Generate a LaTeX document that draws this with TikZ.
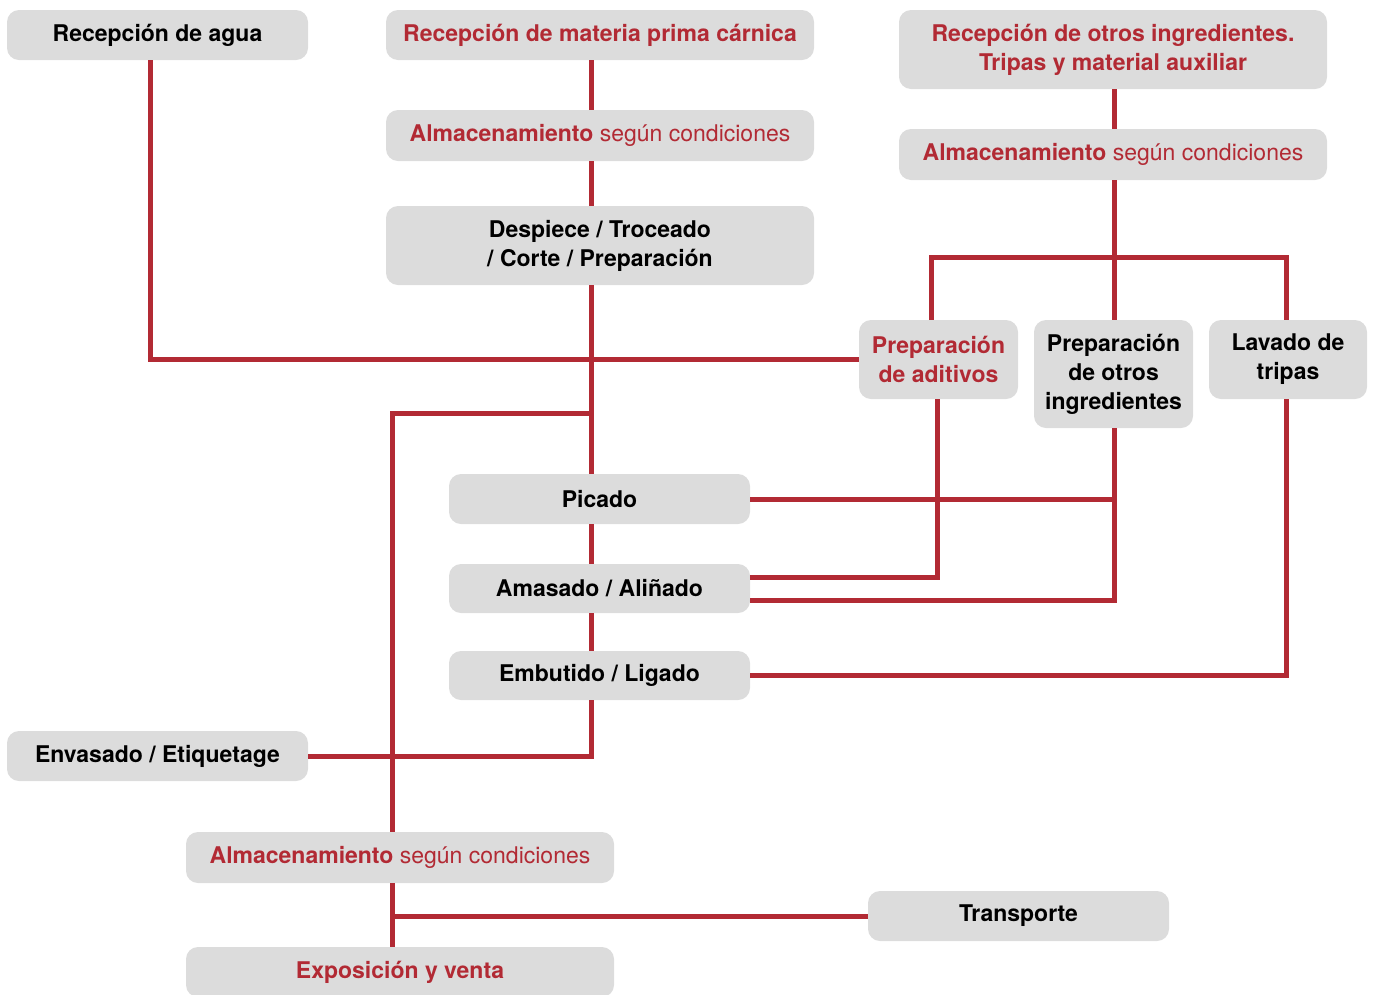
\documentclass[tikz,border=0pt]{standalone}
\usepackage{fontspec}
\setmainfont{TeX Gyre Heros}
\definecolor{rd}{HTML}{B22A34}
\definecolor{bx}{HTML}{DCDCDC}
\tikzset{
  box/.style={fill=bx, rounded corners=12pt, inner sep=0pt, align=center,
    font=\fontsize{23}{29}\selectfont\bfseries, text=black},
  rbox/.style={box, text=rd},
  conn/.style={draw=rd, line width=5pt},
}
\newcommand{\almtext}{\textbf{Almacenamiento} {\mdseries según condiciones}}
\begin{document}
\begin{tikzpicture}[x=1pt,y=-1pt]
\useasboundingbox (0,0) rectangle (1373,994);
\clip (0,0) rectangle (1373,994);
% boxes
\node[box, minimum width=301pt, minimum height=50pt] (agua) at (157.5,35) {Recepción de agua};
\node[rbox, minimum width=428pt, minimum height=50pt] (mat) at (600,35) {Recepción de materia prima cárnica};
\node[rbox, minimum width=428pt, minimum height=79pt] (otr) at (1113,49.5) {Recepción de otros ingredientes.\\Tripas y material auxiliar};
\node[rbox, minimum width=428pt, minimum height=51pt] (alm1) at (600,135.5) {\almtext};
\node[rbox, minimum width=428pt, minimum height=51pt] (alm2) at (1113,154.5) {\almtext};
\node[box, minimum width=428pt, minimum height=79pt] (desp) at (600,245.5) {Despiece / Troceado\\/ Corte / Preparación};
\node[rbox, minimum width=159pt, minimum height=79pt] (adit) at (938.5,359.5) {Preparación\\de aditivos};
\node[box, minimum width=159pt, minimum height=108pt] (potr) at (1113.5,374) {Preparación\\de otros\\ingredientes};
\node[box, minimum width=158pt, minimum height=79pt] (lav) at (1288,359.5) {Lavado de\\tripas};
\node[box, minimum width=301pt, minimum height=50pt] (pic) at (599.5,499) {Picado};
\node[box, minimum width=301pt, minimum height=49pt] (amas) at (599.5,588.5) {Amasado / Aliñado};
\node[box, minimum width=301pt, minimum height=49pt] (emb) at (599.5,675.5) {Embutido / Ligado};
\node[box, minimum width=301pt, minimum height=50pt] (env) at (157.5,756) {Envasado / Etiquetage};
\node[rbox, minimum width=428pt, minimum height=51pt] (alm3) at (400,857.5) {\almtext};
\node[box, minimum width=301pt, minimum height=50pt] (trans) at (1018.5,916) {Transporte};
\node[rbox, minimum width=428pt, minimum height=50pt] (expo) at (400,972) {Exposición y venta};
% junctions
\coordinate (j1) at (591,413);
\coordinate (j2) at (392,916);
\coordinate (j3) at (931,257);
\coordinate (j4) at (1286,257);
% connectors
\draw[conn] ([xshift=-7.5]agua.south) |- (adit.west);
\draw[conn] ([xshift=-9]mat.south) -- ([xshift=-9]alm1.north);
\draw[conn] ([xshift=-9]alm1.south) -- ([xshift=-9]desp.north);
\draw[conn] ([xshift=-9]desp.south) -- ([xshift=-8.5]pic.north);
\draw[conn] ([xshift=-8.5]pic.south) -- ([xshift=-8.5]amas.north);
\draw[conn] ([xshift=-8.5]amas.south) -- ([xshift=-8.5]emb.north);
\draw[conn] ([xshift=-8.5]emb.south) |- (env.east);
\draw[conn] (j1) -| ([xshift=-8]alm3.north);
\draw[conn] ([xshift=-8]alm3.south) -- ([xshift=-8]expo.north);
\draw[conn] (trans.west) -- (j2);
\draw[conn] ([xshift=1]otr.south) -- ([xshift=1]alm2.north);
\draw[conn] ([xshift=1]alm2.south) -- ([xshift=0.5]potr.north);
\draw[conn] ([xshift=-7.5]adit.north) -- (j3) -- (j4) -- ([xshift=-2]lav.north);
\draw[conn] ([xshift=-1.5]adit.south) |- ([yshift=11.5]amas.east);
\draw[conn] ([xshift=0.5]potr.south) |- ([yshift=-11.5]amas.east);
\draw[conn] (pic.east) -- ([xshift=0.5]potr.south |- pic.east);
\draw[conn] ([xshift=-2]lav.south) |- (emb.east);
\end{tikzpicture}
\end{document}
